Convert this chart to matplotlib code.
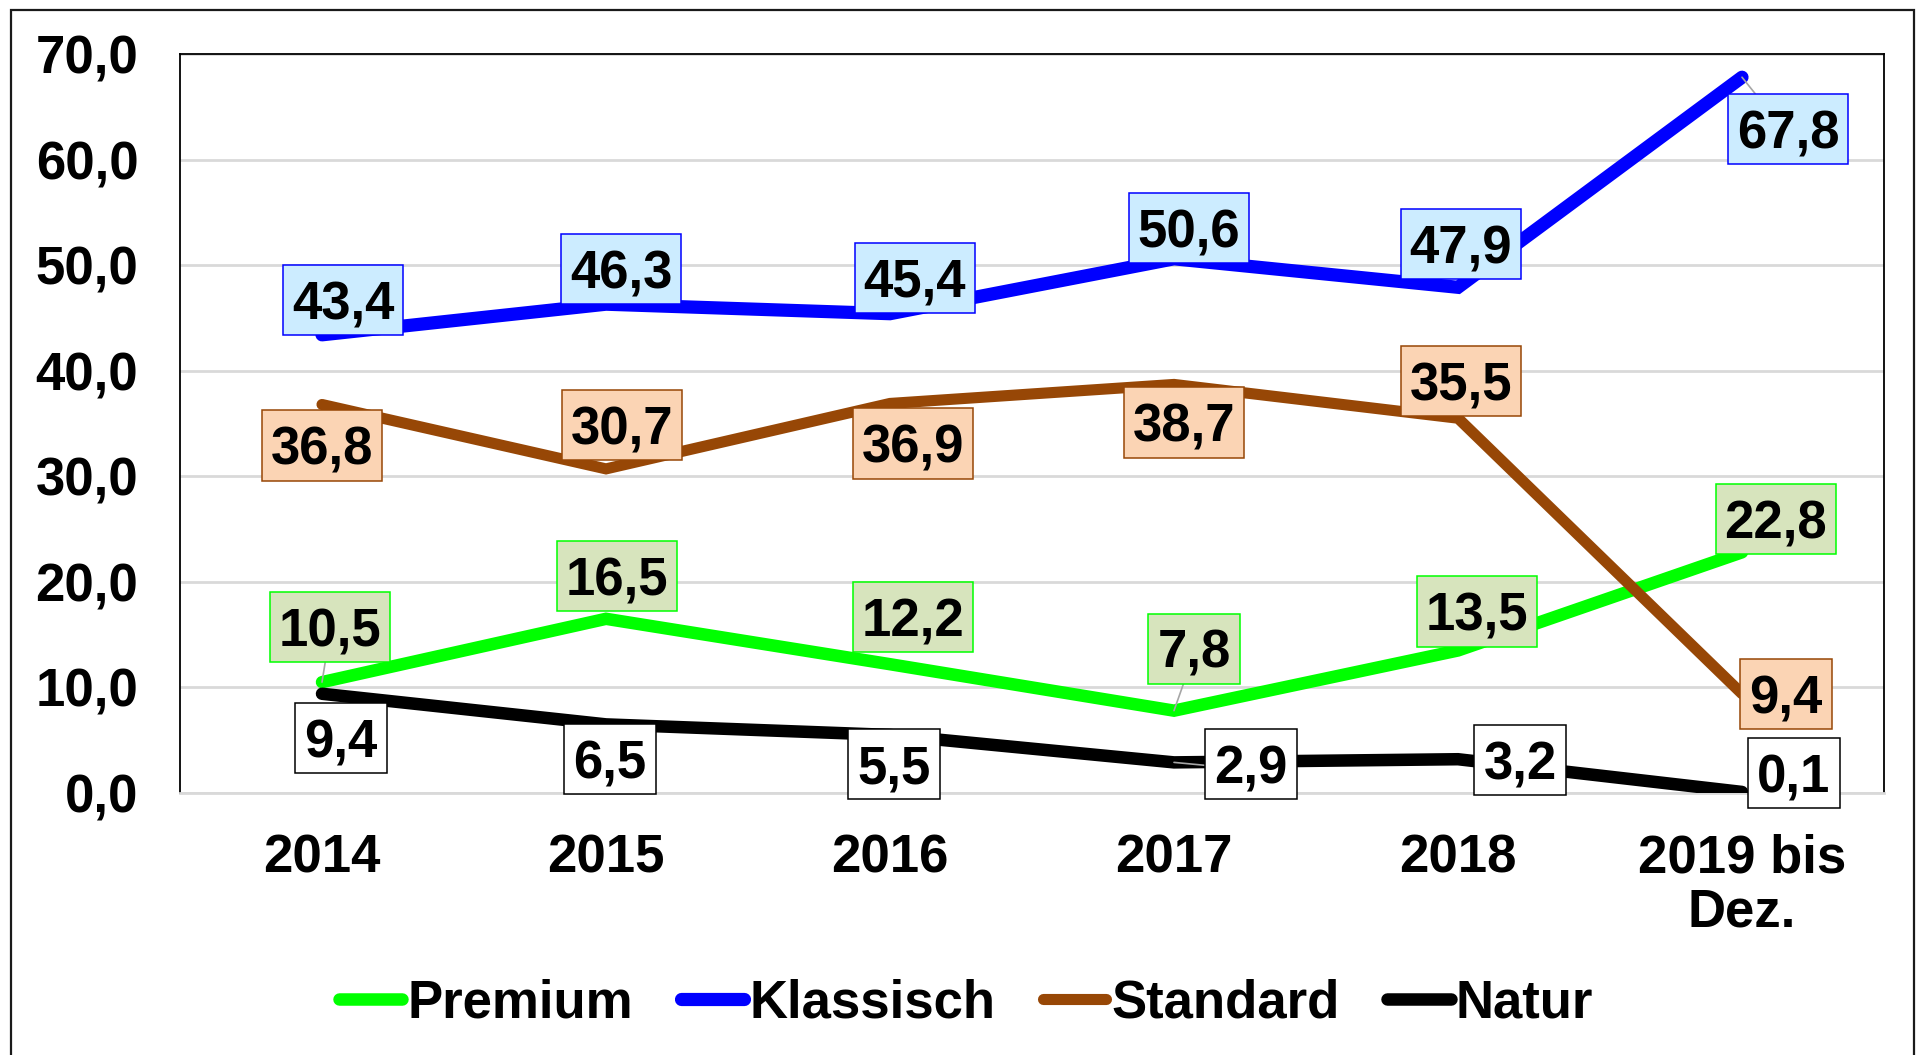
import matplotlib
matplotlib.use("Agg")
import matplotlib.pyplot as plt
from matplotlib.patches import Rectangle
from matplotlib.lines import Line2D
from matplotlib.path import Path

# ---- data ----
categories = ["2014", "2015", "2016", "2017", "2018", "2019 bis\nDez."]
premium = [10.5, 16.5, 12.2, 7.8, 13.5, 22.8]
klassisch = [43.4, 46.3, 45.4, 50.6, 47.9, 67.8]
standard = [36.8, 30.7, 36.9, 38.7, 35.5, 9.4]
natur = [9.4, 6.5, 5.5, 2.9, 3.2, 0.1]
series_names = ["Premium", "Klassisch", "Standard", "Natur"]
yticks = [0, 10, 20, 30, 40, 50, 60, 70]

# ---- styles / layout ----
styles = {
    "Premium": dict(color="#00FF00", face="#D7E4BD", edge="#00FF00", lw=9),
    "Klassisch": dict(color="#0000FF", face="#CCECFF", edge="#0000FF", lw=9.5),
    "Standard": dict(color="#974706", face="#FBD4B4", edge="#974706", lw=8),
    "Natur": dict(color="#000000", face="#FFFFFF", edge="#000000", lw=9),
}
# label box-centre offsets in pixels (dx, dy up)
label_offsets = {
    "Premium": [(8, 55), (11, 43), (23, 47), (20, 62), (19, 39), (34, 33)],
    "Klassisch": [(21, 35), (15, 35), (25, 36), (15, 31), (3, 43), (46, -52)],
    "Standard": [(0, -41), (16, 44), (23, -40), (10, -38), (3, 37), (44, 0)],
    "Natur": [(19, -44), (4, -35), (4, -29), (77, -2), (62, -1), (52, 19)],
}
leaders = {("Premium", 0), ("Premium", 3), ("Klassisch", 5), ("Natur", 3)}

plt.rcParams["font.family"] = ["Liberation Sans", "DejaVu Sans"]
plt.rcParams["font.weight"] = "bold"
FS = 38
FS_PX = FS * 100 / 72
SHIFT = 0.1  # fraction of font size: digits sit above text-bbox centre


def label_box(x0, y0, width, height, mutation_size):
    """Rectangle of fixed height, centred on the digits of the text."""
    padx = 0.17 * mutation_size
    hb = 1.33 * mutation_size
    cy = y0 + height / 2 + SHIFT * mutation_size
    xa, xb = x0 - padx, x0 + width + padx
    ya, yb = cy - hb / 2, cy + hb / 2
    return Path([(xa, ya), (xb, ya), (xb, yb), (xa, yb), (xa, ya)],
                [Path.MOVETO, Path.LINETO, Path.LINETO, Path.LINETO, Path.CLOSEPOLY])


W, H = 1916, 1055
fig = plt.figure(figsize=(W / 100, H / 100), dpi=100)
ax = fig.add_axes([180 / W, 1 - 793 / H, (1884 - 180) / W, (793 - 54) / H])

# outer border
fig.patches.append(Rectangle((11 / W, -0.05), (1914 - 11) / W, 1 - 10 / H + 0.05,
                             transform=fig.transFigure, fill=False,
                             edgecolor="#1a1a1a", lw=1.6, zorder=0))

values = {"Premium": premium, "Klassisch": klassisch, "Standard": standard, "Natur": natur}
x = list(range(len(categories)))

handles = []
for i, name in enumerate(series_names):
    st = styles[name]
    ax.plot(x, values[name], color=st["color"], lw=st["lw"],
            solid_capstyle="round", solid_joinstyle="miter", zorder=3 + i)
    handles.append(Line2D([], [], color=st["color"], lw=st["lw"], solid_capstyle="round"))

for name in series_names:
    st = styles[name]
    for j, v in enumerate(values[name]):
        dx, dy = label_offsets[name][j]
        lab = f"{v:.1f}".replace(".", ",")
        kw = {}
        if (name, j) in leaders:
            kw["arrowprops"] = dict(arrowstyle="-", color="#A6A6A6", lw=1.2,
                                    shrinkA=0, shrinkB=0)
        ax.annotate(lab, xy=(j, v), xytext=(dx, dy - SHIFT * FS_PX), textcoords="offset pixels",
                    ha="center", va="center", fontsize=FS, fontweight="bold",
                    color="black", zorder=10,
                    bbox=dict(boxstyle=label_box, facecolor=st["face"],
                              edgecolor=st["edge"], lw=1.1),
                    annotation_clip=False, **kw)

ax.set_xlim(-0.5, len(categories) - 0.5)
ax.set_ylim(0, 70)
ax.set_yticks(yticks)
ax.set_yticklabels([f"{t:.1f}".replace(".", ",") for t in yticks], fontsize=FS, fontweight="bold")
ax.set_xticks(x)
ax.set_xticklabels(categories, fontsize=FS, fontweight="bold", linespacing=1.1)
ax.tick_params(axis="both", length=0)
ax.tick_params(axis="y", pad=30)
ax.tick_params(axis="x", pad=29)
ax.yaxis.grid(True, color="#D9D9D9", lw=2)
ax.set_axisbelow(True)
for s in ["left", "top", "right"]:
    ax.spines[s].set_color("#000000")
    ax.spines[s].set_linewidth(1.3)
ax.spines["bottom"].set_color("#D9D9D9")
ax.spines["bottom"].set_linewidth(2)

fig.legend(handles, series_names, loc="center", bbox_to_anchor=(966 / W, 1 - 1003 / H),
           ncol=4, frameon=False, handlelength=1.2, handletextpad=0.1,
           columnspacing=0.9, prop=dict(size=FS, weight="bold"))

fig.savefig("out.png", dpi=100)
